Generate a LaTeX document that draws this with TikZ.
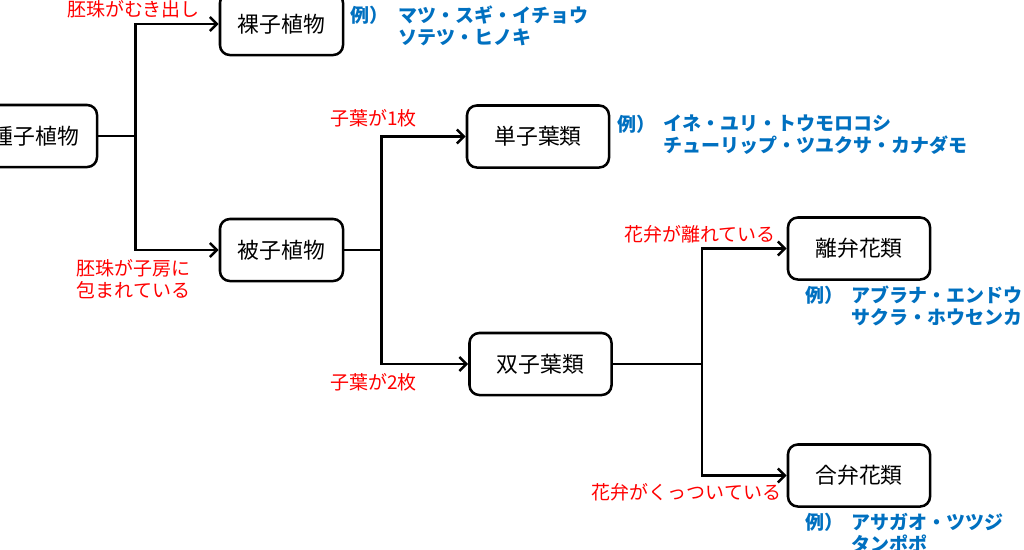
\documentclass[tikz,border=0pt]{standalone}
\usepackage{fontspec}
\setmainfont{Noto Sans CJK JP}
\usetikzlibrary{arrows.meta}
\definecolor{exblue}{RGB}{0,112,192}
\begin{document}
\begin{tikzpicture}[x=0.025cm,y=-0.025cm,
    box/.style={draw,line width=1.8pt,rounded corners=7pt,minimum height=1.55cm,
        font=\fontsize{15.5}{18}\selectfont},
    cond/.style={text=red,inner sep=0pt,align=center,font=\fontsize{13.5}{15.6}\selectfont},
    ex/.style={text=exblue,inner sep=0pt,align=left,font=\bfseries\fontsize{13.5}{15.6}\selectfont},
    link/.style={line width=1.8pt},
    arr/.style={link,-{Straight Barb[length=5pt,width=10pt]}}]
    \useasboundingbox (0,0) rectangle (1024,549);
    \clip (0,0) rectangle (1024,549);

    \node[box,minimum width=3.075cm] (shushi) at (35.5,136) {種子植物};
    \node[box,minimum width=3.075cm] (rashi) at (281.5,24) {裸子植物};
    \node[box,minimum width=3.075cm] (hishi) at (281.5,250) {被子植物};
    \node[box,minimum width=3.55cm] (tanshi) at (538,136.5) {単子葉類};
    \node[box,minimum width=3.55cm] (soshi) at (540.5,364) {双子葉類};
    \node[box,minimum width=3.55cm] (riben) at (859,248.5) {離弁花類};
    \node[box,minimum width=3.55cm] (goben) at (859,475.5) {合弁花類};

    \draw[link] (shushi.east) -- ++(37,0) coordinate (b1);
    \draw[link] (hishi.east) -- ++(37,0) coordinate (b2);
    \draw[link] (soshi.east) -- ++(89,0) coordinate (b3);
    \foreach \a/\b in {b1/rashi,b1/hishi,b2/tanshi,b2/soshi,b3/riben,b3/goben}
        \draw[arr] (\a) |- (\b.west);

    \node[cond] (c1) at (133.5,9) {胚珠がむき出し};
    \node[cond] (c2) at (133.5,279) {胚珠が子房に\\包まれている};
    \node[cond] (c3) at (373.5,118) {子葉が1枚};
    \node[cond] (c4) at (373.5,382) {子葉が2枚};
    \node[cond] (c5) at (700,234) {花弁が離れている};
    \node[cond] (c6) at (686.5,492) {花弁がくっついている};

    \node[ex,anchor=west] (ex1) at (350,15) {例）};
    \node[ex,anchor=north west] (list1) at ([xshift=0.25cm]ex1.north east) {マツ・スギ・イチョウ\\ソテツ・ヒノキ};
    \node[ex,anchor=west] (ex2) at (617,124) {例）};
    \node[ex,anchor=north west] (list2) at ([xshift=0.2cm]ex2.north east) {イネ・ユリ・トウモロコシ\\チューリップ・ツユクサ・カナダモ};
    \node[ex,anchor=west] (ex3) at (805,295) {例）};
    \node[ex,anchor=north west] (list3) at ([xshift=0.2cm]ex3.north east) {アブラナ・エンドウ\\サクラ・ホウセンカ};
    \node[ex,anchor=west] (ex4) at (805,522) {例）};
    \node[ex,anchor=north west] (list4) at ([xshift=0.2cm]ex4.north east) {アサガオ・ツツジ\\タンポポ};
\end{tikzpicture}
\end{document}
